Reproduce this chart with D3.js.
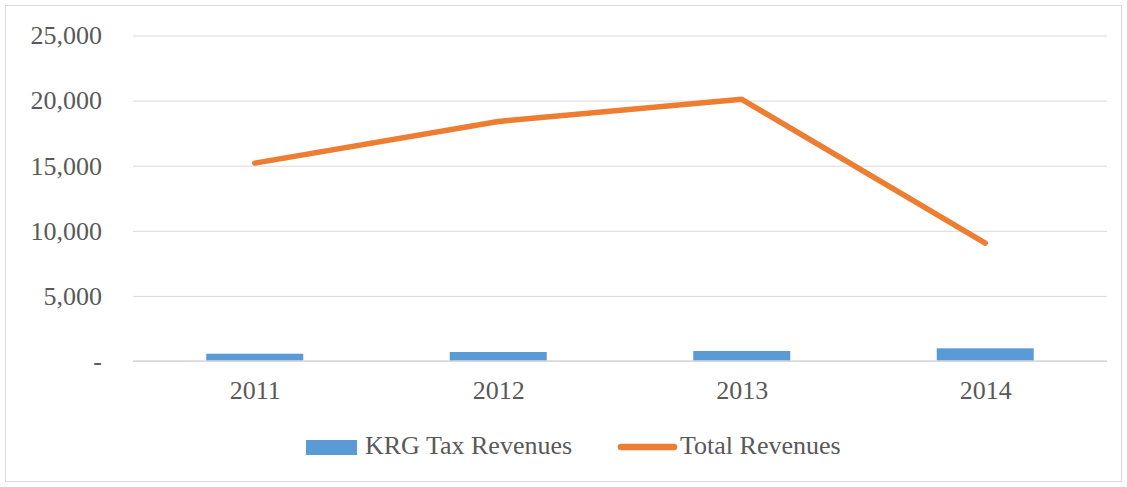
<!DOCTYPE html>
<html><head><meta charset="utf-8">
<script src="https://cdn.jsdelivr.net/npm/d3@7"></script>
<style>body{margin:0;background:#fff}svg{display:block}</style>
</head><body>
<svg id="c" width="1127" height="487"></svg>
<script>
const categories = ["2011","2012","2013","2014"];
const krgTax = [560, 690, 770, 975];
const totalRevenues = [15200, 18400, 20100, 9050];
const yTicks = [0, 5000, 10000, 15000, 20000, 25000];
const seriesNames = ["KRG Tax Revenues", "Total Revenues"];

const svg = d3.select("#c");
const font = "'Liberation Serif','Times New Roman',serif";
const fs = "26px";
const W = 1127, H = 487;
const m = {left: 133, right: 1107, top: 35.5, bottom: 361};

svg.append("rect").attr("x",5.5).attr("y",5.5).attr("width",W-11).attr("height",H-11)
  .attr("fill","#fff").attr("stroke","#d9d9d9").attr("stroke-width",1);

const xc = d3.scalePoint().domain(categories).range([m.left, m.right]).padding(0.5);
const y = d3.scaleLinear().domain([0, 25000]).range([m.bottom, m.top]);

// gridlines + y labels
const yAxis = d3.axisLeft(y).tickValues(yTicks).tickSize(-(m.right-m.left))
  .tickFormat(d => d === 0 ? "-" : d3.format(",")(d));
const gy = svg.append("g").attr("transform",`translate(${m.left},0)`).call(yAxis);
gy.select(".domain").remove();
gy.selectAll(".tick line").attr("stroke","#d9d9d9").attr("stroke-width",1);
gy.selectAll(".tick text").attr("fill","#595959").style("font-family",font).style("font-size",fs)
  .attr("x", -31);

// bars
const bw = 97;
svg.append("g").selectAll("rect").data(krgTax).join("rect")
  .attr("x",(d,i)=>xc(categories[i]) - bw/2).attr("width",bw)
  .attr("y",d=>y(d)).attr("height",d=>y(0)-y(d))
  .attr("fill","#5b9bd5");

// baseline
svg.append("line").attr("x1",m.left).attr("x2",m.right).attr("y1",y(0)).attr("y2",y(0))
  .attr("stroke","#d9d9d9").attr("stroke-width",1.5);

// x axis labels
const xAxis = d3.axisBottom(xc).tickSize(0).tickPadding(20);
const gx = svg.append("g").attr("transform",`translate(0,${m.bottom})`).call(xAxis);
gx.select(".domain").remove();
gx.selectAll(".tick text").attr("fill","#595959").style("font-family",font).style("font-size",fs);

// line
const line = d3.line().x((d,i)=>xc(categories[i])).y(d=>y(d));
svg.append("path").datum(totalRevenues).attr("d",line)
  .attr("fill","none").attr("stroke","#ed7d31").attr("stroke-width",5.5)
  .attr("stroke-linejoin","round").attr("stroke-linecap","round");

// legend
const lg = svg.append("g");
lg.append("rect").attr("x",306).attr("y",440).attr("width",51).attr("height",15).attr("fill","#5b9bd5");
lg.append("text").attr("x",365).attr("y",454).text(seriesNames[0])
  .attr("fill","#595959").style("font-family",font).style("font-size",fs);
lg.append("line").attr("x1",621).attr("x2",674).attr("y1",447).attr("y2",447)
  .attr("stroke","#ed7d31").attr("stroke-width",6.5).attr("stroke-linecap","round");
lg.append("text").attr("x",680).attr("y",454).text(seriesNames[1])
  .attr("fill","#595959").style("font-family",font).style("font-size",fs);
</script>
</body></html>
